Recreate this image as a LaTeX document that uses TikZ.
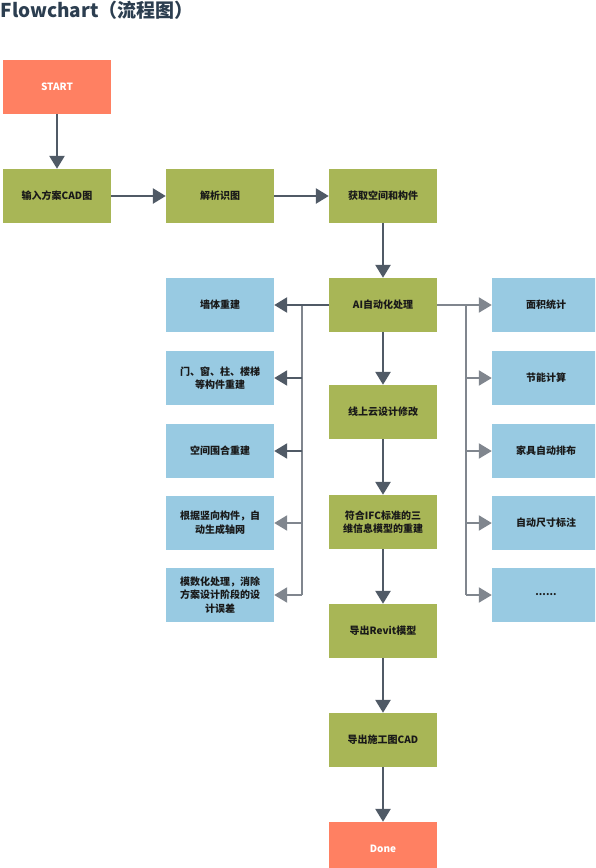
\documentclass[tikz,border=0pt]{standalone}
\usepackage{fontspec}
\usepackage{tikz}
\usetikzlibrary{arrows.meta}
\newfontfamily\cjk{Noto Sans CJK SC}
\definecolor{startorange}{RGB}{255,128,98}
\definecolor{stepgreen}{RGB}{168,182,86}
\definecolor{subblue}{RGB}{152,202,226}
\definecolor{flowgray}{RGB}{80,90,102}
\definecolor{branchgray}{RGB}{128,134,142}
\definecolor{titleblue}{RGB}{44,62,80}
\tikzset{
	box/.style={minimum width=108pt, minimum height=54pt, inner sep=0pt, align=center,
		font=\cjk\bfseries\fontsize{10}{13.5}\selectfont},
	endbox/.style={box, fill=startorange, text=white},
	stepbox/.style={box, fill=stepgreen, text=black!90},
	subbox/.style={box, fill=subblue, text=black!90},
	flow/.style={->, line width=2.6pt, draw=flowgray, fill=flowgray},
	branch/.style={->, line width=2.2pt, draw=branchgray},
	bus/.style={line width=2.2pt, draw=branchgray}
}

\begin{document}
\begin{tikzpicture}[x=1pt, y=-1pt, >={Triangle[length=13pt,width=15pt]}]
			\useasboundingbox (0,0) rectangle (595,868);
			\clip (0,0) rectangle (595,868);
			\node[anchor=base west, text=titleblue, inner sep=0pt,
				font=\cjk\bfseries\fontsize{19}{22}\selectfont] (title) at (0.5,17) {Flowchart（流程图）};
			\node[endbox] (start) at (57,87) {START};
			\node[stepbox] (input) at (57,196) {输入方案CAD图};
			\node[stepbox] (parse) at (220,196) {解析识图};
			\node[stepbox] (fetch) at (383,196) {获取空间和构件};
			\node[stepbox] (ai) at (383,305) {AI自动化处理};
			\node[stepbox] (cloud) at (383,412) {线上云设计修改};
			\node[stepbox] (ifc) at (383,522) {符合IFC标准的三\\维信息模型的重建};
			\node[stepbox] (revit) at (383,631) {导出Revit模型};
			\node[stepbox] (cad) at (383,740) {导出施工图CAD};
			\node[endbox] (done) at (383,849) {Done};
			\node[subbox] (wall) at (220,305) {墙体重建};
			\node[subbox] (door) at (220,378) {门、窗、柱、楼梯\\等构件重建};
			\node[subbox] (space) at (220,451) {空间围合重建};
			\node[subbox] (grid) at (220,523) {根据竖向构件，自\\动生成轴网};
			\node[subbox] (modul) at (220,595) {模数化处理，消除\\方案设计阶段的设\\计误差};
			\node[subbox] (area) at (546,305) {面积统计};
			\node[subbox] (energy) at (546,378) {节能计算};
			\node[subbox] (furn) at (546,451) {家具自动排布};
			\node[subbox] (dim) at (546,523) {自动尺寸标注};
			\node[subbox] (more) at (546,595) {......};
			\draw[flow] (start) -- (input);
			\draw[flow] (input) -- (parse);
			\draw[flow] (parse) -- (fetch);
			\draw[flow] (fetch) -- (ai);
			\draw[flow] (ai) -- (cloud);
			\draw[flow] (cloud) -- (ifc);
			\draw[flow] (ifc) -- (revit);
			\draw[flow] (revit) -- (cad);
			\draw[flow] (cad) -- (done);
			\coordinate (ltop) at (302,305);
			\coordinate (lbot) at (302,595);
			\coordinate (rtop) at (466,305);
			\coordinate (rbot) at (466,595);
			\draw[bus] (ltop) -- (lbot);
			\draw[bus] (rtop) -- (rbot);
			\draw[flow] (ai) -- (wall);
			\draw[branch] (ai) -- (area);
			\foreach \n in {door,space}
				\draw[flow, line width=2.2pt] (ltop |- \n.east) -- (\n.east);
			\foreach \n in {grid,modul}
				\draw[branch] (ltop |- \n.east) -- (\n.east);
			\foreach \n in {energy,furn,dim,more}
				\draw[branch] (rtop |- \n.west) -- (\n.west);
		\end{tikzpicture}
\end{document}
